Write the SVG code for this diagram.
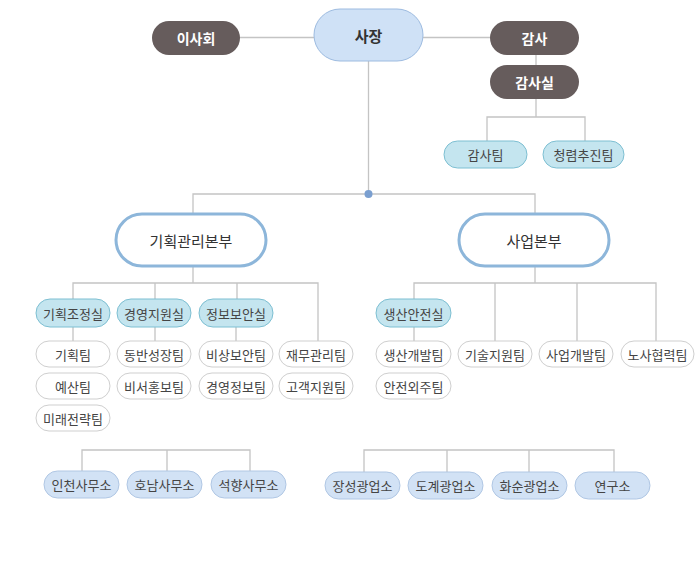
<svg xmlns="http://www.w3.org/2000/svg" width="700" height="578" viewBox="0 0 700 578">
<style>
text{font-family:"Noto Sans CJK KR","Noto Sans",sans-serif;text-anchor:middle;dominant-baseline:central;fill:#444;font-size:13px}
.dark rect{fill:#665c5c;stroke:none}
.dark text{fill:#fff;font-weight:bold;font-size:14px}
.ceo rect{fill:#cfe1f6;stroke:#9dbbe0;stroke-width:1}
.ceo text{font-weight:bold;font-size:15px;fill:#333}
.hq rect{fill:#fff;stroke:#8db6da;stroke-width:3}
.hq text{font-size:15px;fill:#333}
.room rect{fill:#c4e5ef;stroke:#7dbfd2;stroke-width:1}
.team rect{fill:#fff;stroke:#cfcfcf;stroke-width:1}
.office rect{fill:#d2e2f5;stroke:#b0c7e4;stroke-width:1}
#connectors path{fill:none;stroke:#c4c4c4;stroke-width:1.3}
</style>
<rect width="700" height="578" fill="#fff"/>
<g id="connectors">
<path d="M240 37.5H314M423 37.5H490M536 55V65M536 99V117M487 141V117H585V141"/>
<path d="M368.5 61V194M193 214V194H535V214"/>
<path d="M193 266V283M73 299V283H318V341M155 283V299M237 283V299M73 327V341M155 327V341M236 327V341"/>
<path d="M535 266V283M414 299V283H656V341M495 283V341M577 283V341M414 327V341"/>
<path d="M82 471V450H250V471M167 450V471"/>
<path d="M364 472V450H614V472M447 450V472M529 450V472"/>
<circle cx="368.5" cy="194" r="4" fill="#7a9fd0" stroke="none"/>
</g>
<g id="n-board" class="dark"><rect x="152" y="21" width="88" height="34" rx="17"/><text x="196" y="38">이사회</text></g>
<g id="n-ceo" class="ceo"><rect x="314" y="9" width="109" height="52" rx="26"/><text x="368.5" y="35">사장</text></g>
<g id="n-audit" class="dark"><rect x="490" y="21" width="89" height="34" rx="17"/><text x="534.5" y="38">감사</text></g>
<g id="n-auditoffice" class="dark"><rect x="490" y="65" width="89" height="34" rx="17"/><text x="534.5" y="82">감사실</text></g>
<g id="n-auditteam" class="room"><rect x="444" y="141" width="83" height="27" rx="13.5"/><text x="485.5" y="154.5">감사팀</text></g>
<g id="n-integrity" class="room"><rect x="543" y="141" width="81" height="27" rx="13.5"/><text x="583.5" y="154.5">청렴추진팀</text></g>
<g id="n-planhq" class="hq"><rect x="116" y="214" width="150" height="52" rx="26"/><text x="191" y="240">기획관리본부</text></g>
<g id="n-bizhq" class="hq"><rect x="459" y="214" width="150" height="52" rx="26"/><text x="534" y="240">사업본부</text></g>
<g id="n-r1" class="room"><rect x="36" y="299" width="74" height="28" rx="14"/><text x="73" y="313">기획조정실</text></g>
<g id="n-r2" class="room"><rect x="117" y="299" width="74" height="28" rx="14"/><text x="154" y="313">경영지원실</text></g>
<g id="n-r3" class="room"><rect x="199" y="299" width="74" height="28" rx="14"/><text x="236" y="313">정보보안실</text></g>
<g id="n-r4" class="room"><rect x="376" y="299" width="75" height="28" rx="14"/><text x="413.5" y="313">생산안전실</text></g>
<g id="n-t1" class="team"><rect x="36" y="341" width="74" height="26" rx="13"/><text x="73" y="354">기획팀</text></g>
<g id="n-t2" class="team"><rect x="36" y="373" width="74" height="26" rx="13"/><text x="73" y="386">예산팀</text></g>
<g id="n-t3" class="team"><rect x="36" y="405" width="74" height="26" rx="13"/><text x="73" y="418">미래전략팀</text></g>
<g id="n-t4" class="team"><rect x="117" y="341" width="74" height="26" rx="13"/><text x="154" y="354">동반성장팀</text></g>
<g id="n-t5" class="team"><rect x="117" y="373" width="74" height="26" rx="13"/><text x="154" y="386">비서홍보팀</text></g>
<g id="n-t6" class="team"><rect x="199" y="341" width="74" height="26" rx="13"/><text x="236" y="354">비상보안팀</text></g>
<g id="n-t7" class="team"><rect x="199" y="373" width="74" height="26" rx="13"/><text x="236" y="386">경영정보팀</text></g>
<g id="n-t8" class="team"><rect x="279" y="341" width="74" height="26" rx="13"/><text x="316" y="354">재무관리팀</text></g>
<g id="n-t9" class="team"><rect x="279" y="373" width="74" height="26" rx="13"/><text x="316" y="386">고객지원팀</text></g>
<g id="n-t10" class="team"><rect x="376" y="341" width="75" height="26" rx="13"/><text x="413.5" y="354">생산개발팀</text></g>
<g id="n-t11" class="team"><rect x="376" y="373" width="75" height="26" rx="13"/><text x="413.5" y="386">안전외주팀</text></g>
<g id="n-t12" class="team"><rect x="458" y="341" width="74" height="26" rx="13"/><text x="495" y="354">기술지원팀</text></g>
<g id="n-t13" class="team"><rect x="539" y="341" width="74" height="26" rx="13"/><text x="576" y="354">사업개발팀</text></g>
<g id="n-t14" class="team"><rect x="621" y="341" width="73" height="26" rx="13"/><text x="657.5" y="354">노사협력팀</text></g>
<g id="n-o1" class="office"><rect x="44" y="471" width="75" height="27" rx="13.5"/><text x="81.5" y="484.5">인천사무소</text></g>
<g id="n-o2" class="office"><rect x="127" y="471" width="75" height="27" rx="13.5"/><text x="164.5" y="484.5">호남사무소</text></g>
<g id="n-o3" class="office"><rect x="211" y="471" width="75" height="27" rx="13.5"/><text x="248.5" y="484.5">석향사무소</text></g>
<g id="n-o4" class="office"><rect x="325" y="472" width="75" height="27" rx="13.5"/><text x="362.5" y="485.5">장성광업소</text></g>
<g id="n-o5" class="office"><rect x="408" y="472" width="75" height="27" rx="13.5"/><text x="445.5" y="485.5">도계광업소</text></g>
<g id="n-o6" class="office"><rect x="492" y="472" width="75" height="27" rx="13.5"/><text x="529.5" y="485.5">화순광업소</text></g>
<g id="n-o7" class="office"><rect x="575" y="472" width="75" height="27" rx="13.5"/><text x="612.5" y="485.5">연구소</text></g>
</svg>
